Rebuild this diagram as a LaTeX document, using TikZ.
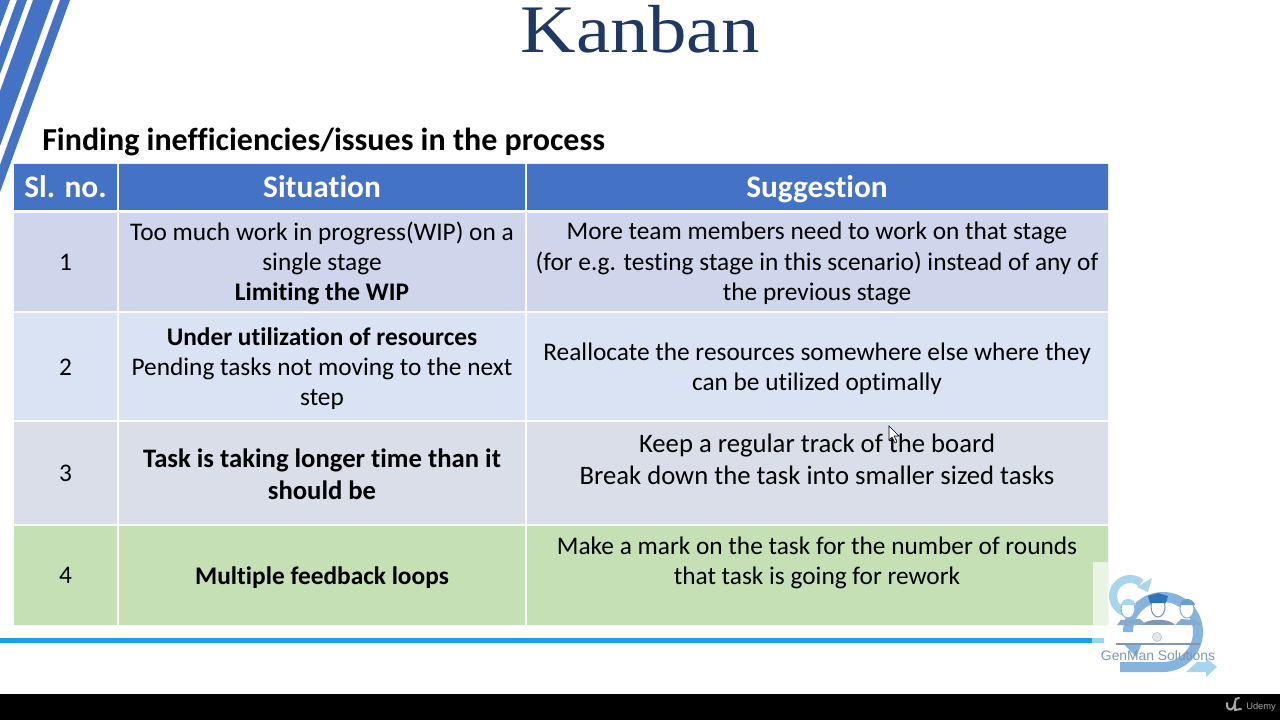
\documentclass[tikz,border=0pt]{standalone}
\usepackage{fontspec}
\setmainfont{Carlito}[Ligatures=CommonOff]
\newfontfamily\titlefont{Liberation Serif}[FakeStretch=1.13]
\newfontfamily\logofont{Liberation Sans}
\usetikzlibrary{arrows.meta}
\definecolor{hdr}{HTML}{4472C4}
\definecolor{rowa}{HTML}{CFD5EA}
\definecolor{rowb}{HTML}{DAE3F3}
\definecolor{rowc}{HTML}{D9DEE9}
\definecolor{rowd}{HTML}{C5E0B4}
\definecolor{navy}{HTML}{1F3864}
\definecolor{rule}{HTML}{12A5E6}
\definecolor{logoa}{HTML}{86B4DC}
\definecolor{logob}{HTML}{A9D5EA}
\definecolor{logoc}{HTML}{2E75B6}
\definecolor{logog}{HTML}{7F97B0}
\tikzset{
  x=0.75pt,y=-0.75pt,
  cell/.style={anchor=center,inner sep=0pt,align=center,font=\fontsize{19}{22.7}\selectfont,text=black},
  celltall/.style={cell,font=\fontsize{20}{24}\selectfont},
  head/.style={anchor=base,inner sep=0pt,font=\fontsize{23.5}{28}\selectfont\bfseries,text=white},
  stripe/.style={fill=hdr,draw=none}
}
\begin{document}
\begin{tikzpicture}
\useasboundingbox (0,0) rectangle (1280,720);
\fill[white] (0,0) rectangle (1280,720);
% corner stripes
\fill[stripe] (0,0) -- (10,0) -- (0,27) -- cycle;
\fill[stripe] (17,0) -- (27,0) -- (0,74) -- (0,47) -- cycle;
\fill[stripe] (33,0) -- (53,0) -- (0,146) -- (0,91) -- cycle;
\fill[stripe] (60,0) -- (70,0) -- (0,192) -- (0,165) -- cycle;
% title
\node[anchor=base,inner sep=0pt,text=navy,font=\titlefont\fontsize{51}{56}\selectfont] (title) at (640,53) {Kanban};
\node[anchor=base west,inner sep=0pt,font=\fontsize{24}{28}\selectfont\bfseries] (sub) at (42,151) {Finding inefficiencies/issues in the process};
% table fills
\fill[hdr] (14,164) rectangle (117,210) (119,164) rectangle (525,210) (527,164) rectangle (1108,210);
\fill[rowa] (14,213) rectangle (117,311) (119,213) rectangle (525,311) (527,213) rectangle (1108,311);
\fill[rowb] (14,313) rectangle (117,420) (119,313) rectangle (525,420) (527,313) rectangle (1108,420);
\fill[rowc] (14,422) rectangle (117,524) (119,422) rectangle (525,524) (527,422) rectangle (1108,524);
\fill[rowd] (14,526) rectangle (117,625) (119,526) rectangle (525,625) (527,526) rectangle (1108,625);
% header
\node[head] (h1) at (65.5,198) {Sl. no.};
\node[head] (h2) at (322,198) {Situation};
\node[head] (h3) at (817,198) {Suggestion};
% rows
\node[cell] (n1) at (65.5,262) {1};
\node[cell] (s1) at (322,263.5) {Too much work in progress(WIP) on a\\single stage\\\textbf{Limiting the WIP}};
\node[cell] (g1) at (817,263.5) {More team members need to work on that stage\\(for e.g. testing stage in this scenario) instead of any of\\the previous stage};
\node[cell] (n2) at (65.5,367) {2};
\node[cell] (s2) at (322,368.5) {\textbf{Under utilization of resources}\\Pending tasks not moving to the next\\step};
\node[cell] (g2) at (817,369) {Reallocate the resources somewhere else where they\\can be utilized optimally};
\node[cell] (n3) at (65.5,473) {3};
\node[celltall] (s3) at (322,474) {\textbf{Task is taking longer time than it}\\\textbf{should be}};
\node[celltall] (g3) at (817,459) {Keep a regular track of the board\\Break down the task into smaller sized tasks};
\node[cell] (n4) at (65.5,575) {4};
\node[cell] (s4) at (322,578) {\textbf{Multiple feedback loops}};
\node[cell] (g4) at (817,563) {Make a mark on the task for the number of rounds\\that task is going for rework};
% bottom rule and bar
\fill[rule] (0,638) rectangle (1092,643);
\fill[rule!45] (1092,638) rectangle (1104,643);
\fill[black] (0,694) rectangle (1280,720);
% logo
\fill[white,opacity=.65] (1093,562) rectangle (1108,625);
\draw[logob,line width=6pt] (1141,583) arc[start angle=-50,end angle=-270,radius=17];
\fill[logob] (1137,587) -- (1152,578) -- (1148,592) -- cycle;
\fill[logoa] (1120,662) -- (1163,662) arc[start angle=90,end angle=-180,radius=30] -- (1123,632) arc[start angle=-180,end angle=90,radius=40] -- (1120,672) -- cycle;
\fill[logoa] (1123,643) -- (1142,643) -- (1136,657) -- cycle;
\fill[logob] (1186,672) -- (1206,672) -- (1206,677) -- (1217,667) -- (1206,658) -- (1206,662) -- (1197,662) -- cycle;
% people
\fill[logoa!70!logog] (1117,625) -- (1121,620) -- (1140,619) -- (1146,625) -- cycle;
\fill[logoa!70!logog] (1175,625) -- (1181,619) -- (1195,620) -- (1200,625) -- cycle;
\fill[logog] (1142,625) .. controls (1146,618) and (1170,618) .. (1175,625) -- cycle;
\fill[white] (1128,609) ellipse (7 and 9) (1187,609) ellipse (7 and 9) (1158,607) ellipse (7 and 10);
\draw[logoa,line width=.8pt] (1128,609) ellipse (7 and 9) (1187,609) ellipse (7 and 9);
\draw[logog,line width=.8pt] (1158,607) ellipse (7 and 10);
\fill[logob] (1121,605) .. controls (1122,597) and (1134,597) .. (1136,605) -- cycle;
\fill[logoc!70] (1180,605) .. controls (1181,597) and (1193,597) .. (1195,605) -- cycle;
\fill[logoc] (1158,593) -- (1168,596) -- (1166,603) -- (1150,603) -- (1148,596) -- cycle;
\fill[white,opacity=.75] (1137,625) rectangle (1180,644);
\draw[logog,line width=1.2pt] (1116,644) -- (1200,644);
\node[circle,draw=logog!60,inner sep=0pt,minimum size=7pt,fill=gray!20] (lens) at (1157,637) {};
\node[anchor=center,inner sep=0pt,text=logog,font=\logofont\fontsize{10.4}{12}\selectfont] (brand) at (1158,656) {GenMan Solutions};
% cursor
\draw[black,fill=white,line width=.4pt] (889,426) -- (889,440) -- (892,437) -- (895,443) -- (897,442) -- (894,436) -- (899,436) -- cycle;
% udemy
\node[anchor=base west,inner sep=0pt,text=gray!70,font=\logofont\fontsize{7}{9}\selectfont] (ud) at (1246,709) {Udemy};
\draw[gray!70,line width=1.5pt,line cap=round] (1227,703) .. controls (1226,712) and (1234,712) .. (1235,702) (1235,702) .. controls (1235,699) and (1236,698) .. (1239,698) (1235,702) -- (1235,710) -- (1241,709);
\end{tikzpicture}
\end{document}
